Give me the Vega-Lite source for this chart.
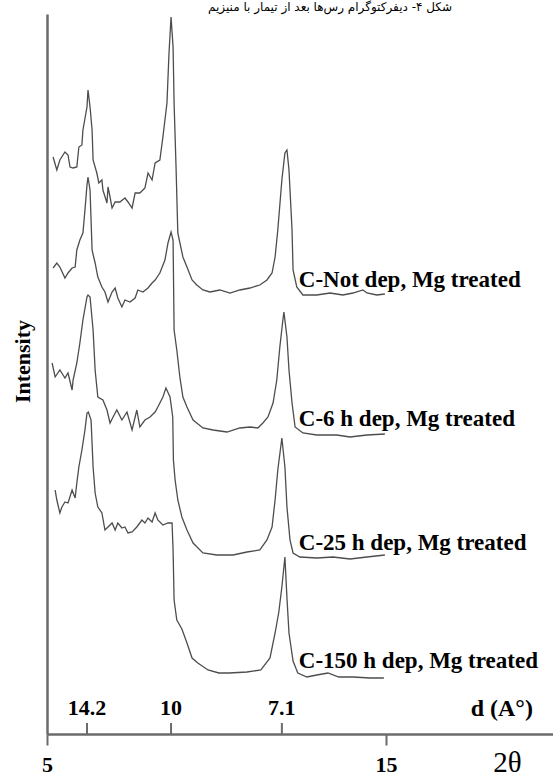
{
  "$schema": "https://vega.github.io/schema/vega-lite/v6.json",
  "width": 506,
  "height": 720,
  "autosize": {"type": "none"},
  "padding": {"left": 47, "top": 14, "right": 0, "bottom": 42},
  "background": "white",
  "config": {"view": {"stroke": null}},
  "title": {
    "text": "شکل ۴- دیفرکتوگرام رس‌ها بعد از تیمار با منیزیم",
    "font": "DejaVu Sans",
    "fontSize": 12,
    "fontWeight": "normal",
    "color": "black",
    "anchor": "middle",
    "dx": 30,
    "dy": 12,
    "baseline": "bottom",
    "offset": 0
  },
  "datasets": {
    "traces": [
      {"s":"Not","x":5.18,"y":577},{"s":"Not","x":5.29,"y":564},{"s":"Not","x":5.38,"y":574},{"s":"Not","x":5.53,"y":582},{"s":"Not","x":5.62,"y":579},{"s":"Not","x":5.68,"y":567},{"s":"Not","x":5.77,"y":566},{"s":"Not","x":5.88,"y":567},{"s":"Not","x":5.94,"y":587},{"s":"Not","x":6.03,"y":589},{"s":"Not","x":6.06,"y":604},{"s":"Not","x":6.18,"y":627},{"s":"Not","x":6.21,"y":644},{"s":"Not","x":6.27,"y":627},{"s":"Not","x":6.33,"y":604},{"s":"Not","x":6.36,"y":574},{"s":"Not","x":6.47,"y":561},{"s":"Not","x":6.53,"y":551},{"s":"Not","x":6.62,"y":554},{"s":"Not","x":6.65,"y":544},{"s":"Not","x":6.77,"y":531},{"s":"Not","x":6.80,"y":547},{"s":"Not","x":6.86,"y":537},{"s":"Not","x":6.92,"y":526},{"s":"Not","x":7.01,"y":532},{"s":"Not","x":7.15,"y":532},{"s":"Not","x":7.30,"y":536},{"s":"Not","x":7.39,"y":532},{"s":"Not","x":7.51,"y":526},{"s":"Not","x":7.60,"y":541},{"s":"Not","x":7.74,"y":541},{"s":"Not","x":7.89,"y":546},{"s":"Not","x":7.98,"y":561},{"s":"Not","x":8.10,"y":554},{"s":"Not","x":8.19,"y":571},{"s":"Not","x":8.33,"y":574},{"s":"Not","x":8.42,"y":597},{"s":"Not","x":8.54,"y":631},{"s":"Not","x":8.60,"y":681},{"s":"Not","x":8.66,"y":717},{"s":"Not","x":8.72,"y":687},{"s":"Not","x":8.75,"y":631},{"s":"Not","x":8.81,"y":564},{"s":"Not","x":8.86,"y":501},{"s":"Not","x":9.01,"y":477},{"s":"Not","x":9.13,"y":467},{"s":"Not","x":9.28,"y":454},{"s":"Not","x":9.42,"y":449},{"s":"Not","x":9.60,"y":444},{"s":"Not","x":9.81,"y":442},{"s":"Not","x":10.10,"y":444},{"s":"Not","x":10.40,"y":441},{"s":"Not","x":10.69,"y":444},{"s":"Not","x":10.99,"y":446},{"s":"Not","x":11.28,"y":449},{"s":"Not","x":11.49,"y":454},{"s":"Not","x":11.64,"y":461},{"s":"Not","x":11.73,"y":477},{"s":"Not","x":11.81,"y":504},{"s":"Not","x":11.93,"y":554},{"s":"Not","x":12.02,"y":581},{"s":"Not","x":12.08,"y":584},{"s":"Not","x":12.14,"y":564},{"s":"Not","x":12.23,"y":504},{"s":"Not","x":12.26,"y":464},{"s":"Not","x":12.37,"y":447},{"s":"Not","x":12.55,"y":439},{"s":"Not","x":12.96,"y":439},{"s":"Not","x":13.35,"y":441},{"s":"Not","x":13.73,"y":439},{"s":"Not","x":14.03,"y":441},{"s":"Not","x":14.32,"y":444},{"s":"Not","x":14.44,"y":441},{"s":"Not","x":14.73,"y":439},{"s":"Not","x":14.97,"y":440},

      {"s":"6h","x":5.18,"y":466},{"s":"6h","x":5.29,"y":471},{"s":"6h","x":5.38,"y":467},{"s":"6h","x":5.53,"y":456},{"s":"6h","x":5.62,"y":461},{"s":"6h","x":5.74,"y":466},{"s":"6h","x":5.83,"y":467},{"s":"6h","x":5.88,"y":484},{"s":"6h","x":5.97,"y":494},{"s":"6h","x":6.06,"y":501},{"s":"6h","x":6.12,"y":524},{"s":"6h","x":6.18,"y":549},{"s":"6h","x":6.21,"y":557},{"s":"6h","x":6.27,"y":544},{"s":"6h","x":6.33,"y":484},{"s":"6h","x":6.42,"y":471},{"s":"6h","x":6.50,"y":457},{"s":"6h","x":6.62,"y":447},{"s":"6h","x":6.71,"y":442},{"s":"6h","x":6.80,"y":432},{"s":"6h","x":6.92,"y":442},{"s":"6h","x":7.01,"y":446},{"s":"6h","x":7.09,"y":436},{"s":"6h","x":7.21,"y":427},{"s":"6h","x":7.30,"y":434},{"s":"6h","x":7.45,"y":432},{"s":"6h","x":7.60,"y":436},{"s":"6h","x":7.68,"y":444},{"s":"6h","x":7.83,"y":442},{"s":"6h","x":7.98,"y":446},{"s":"6h","x":8.10,"y":451},{"s":"6h","x":8.19,"y":454},{"s":"6h","x":8.33,"y":461},{"s":"6h","x":8.48,"y":474},{"s":"6h","x":8.57,"y":491},{"s":"6h","x":8.66,"y":502},{"s":"6h","x":8.72,"y":494},{"s":"6h","x":8.75,"y":404},{"s":"6h","x":8.83,"y":384},{"s":"6h","x":8.92,"y":357},{"s":"6h","x":9.01,"y":337},{"s":"6h","x":9.13,"y":327},{"s":"6h","x":9.31,"y":314},{"s":"6h","x":9.60,"y":306},{"s":"6h","x":9.90,"y":304},{"s":"6h","x":10.31,"y":302},{"s":"6h","x":10.69,"y":306},{"s":"6h","x":10.99,"y":307},{"s":"6h","x":11.22,"y":306},{"s":"6h","x":11.37,"y":311},{"s":"6h","x":11.52,"y":317},{"s":"6h","x":11.67,"y":331},{"s":"6h","x":11.78,"y":354},{"s":"6h","x":11.87,"y":387},{"s":"6h","x":11.96,"y":414},{"s":"6h","x":11.99,"y":422},{"s":"6h","x":12.08,"y":397},{"s":"6h","x":12.14,"y":364},{"s":"6h","x":12.23,"y":331},{"s":"6h","x":12.32,"y":307},{"s":"6h","x":12.55,"y":301},{"s":"6h","x":12.96,"y":299},{"s":"6h","x":13.55,"y":299},{"s":"6h","x":13.94,"y":297},{"s":"6h","x":14.44,"y":299},{"s":"6h","x":14.97,"y":300},

      {"s":"25h","x":5.15,"y":371},{"s":"25h","x":5.24,"y":357},{"s":"25h","x":5.38,"y":364},{"s":"25h","x":5.53,"y":356},{"s":"25h","x":5.62,"y":361},{"s":"25h","x":5.74,"y":344},{"s":"25h","x":5.77,"y":354},{"s":"25h","x":5.88,"y":371},{"s":"25h","x":5.97,"y":391},{"s":"25h","x":6.06,"y":414},{"s":"25h","x":6.18,"y":437},{"s":"25h","x":6.21,"y":439},{"s":"25h","x":6.27,"y":437},{"s":"25h","x":6.36,"y":404},{"s":"25h","x":6.42,"y":364},{"s":"25h","x":6.50,"y":337},{"s":"25h","x":6.65,"y":334},{"s":"25h","x":6.77,"y":324},{"s":"25h","x":6.86,"y":311},{"s":"25h","x":6.95,"y":317},{"s":"25h","x":7.06,"y":324},{"s":"25h","x":7.21,"y":314},{"s":"25h","x":7.36,"y":322},{"s":"25h","x":7.51,"y":304},{"s":"25h","x":7.65,"y":324},{"s":"25h","x":7.74,"y":307},{"s":"25h","x":7.89,"y":314},{"s":"25h","x":8.04,"y":317},{"s":"25h","x":8.19,"y":322},{"s":"25h","x":8.27,"y":327},{"s":"25h","x":8.42,"y":337},{"s":"25h","x":8.51,"y":346},{"s":"25h","x":8.63,"y":337},{"s":"25h","x":8.71,"y":317},{"s":"25h","x":8.73,"y":274},{"s":"25h","x":8.78,"y":254},{"s":"25h","x":8.86,"y":234},{"s":"25h","x":8.98,"y":217},{"s":"25h","x":9.13,"y":204},{"s":"25h","x":9.31,"y":191},{"s":"25h","x":9.60,"y":181},{"s":"25h","x":10.01,"y":179},{"s":"25h","x":10.49,"y":179},{"s":"25h","x":10.90,"y":182},{"s":"25h","x":11.28,"y":184},{"s":"25h","x":11.49,"y":194},{"s":"25h","x":11.64,"y":207},{"s":"25h","x":11.73,"y":234},{"s":"25h","x":11.81,"y":264},{"s":"25h","x":11.93,"y":296},{"s":"25h","x":12.02,"y":267},{"s":"25h","x":12.08,"y":227},{"s":"25h","x":12.17,"y":194},{"s":"25h","x":12.26,"y":181},{"s":"25h","x":12.46,"y":177},{"s":"25h","x":12.96,"y":176},{"s":"25h","x":13.44,"y":177},{"s":"25h","x":13.94,"y":175},{"s":"25h","x":14.44,"y":177},{"s":"25h","x":14.97,"y":179},

      {"s":"150h","x":5.24,"y":244},{"s":"150h","x":5.29,"y":234},{"s":"150h","x":5.38,"y":221},{"s":"150h","x":5.44,"y":227},{"s":"150h","x":5.53,"y":232},{"s":"150h","x":5.62,"y":231},{"s":"150h","x":5.74,"y":244},{"s":"150h","x":5.83,"y":236},{"s":"150h","x":5.88,"y":251},{"s":"150h","x":5.94,"y":267},{"s":"150h","x":6.03,"y":284},{"s":"150h","x":6.12,"y":304},{"s":"150h","x":6.18,"y":321},{"s":"150h","x":6.22,"y":322},{"s":"150h","x":6.30,"y":314},{"s":"150h","x":6.36,"y":267},{"s":"150h","x":6.42,"y":241},{"s":"150h","x":6.50,"y":227},{"s":"150h","x":6.62,"y":221},{"s":"150h","x":6.71,"y":204},{"s":"150h","x":6.80,"y":207},{"s":"150h","x":6.92,"y":211},{"s":"150h","x":7.01,"y":204},{"s":"150h","x":7.09,"y":211},{"s":"150h","x":7.21,"y":206},{"s":"150h","x":7.30,"y":207},{"s":"150h","x":7.39,"y":201},{"s":"150h","x":7.51,"y":202},{"s":"150h","x":7.65,"y":207},{"s":"150h","x":7.80,"y":214},{"s":"150h","x":7.89,"y":211},{"s":"150h","x":7.98,"y":216},{"s":"150h","x":8.10,"y":212},{"s":"150h","x":8.19,"y":221},{"s":"150h","x":8.27,"y":214},{"s":"150h","x":8.42,"y":209},{"s":"150h","x":8.57,"y":211},{"s":"150h","x":8.69,"y":211},{"s":"150h","x":8.72,"y":184},{"s":"150h","x":8.75,"y":134},{"s":"150h","x":8.81,"y":119},{"s":"150h","x":8.83,"y":114},{"s":"150h","x":8.98,"y":105},{"s":"150h","x":9.13,"y":91},{"s":"150h","x":9.28,"y":76},{"s":"150h","x":9.45,"y":71},{"s":"150h","x":9.75,"y":64},{"s":"150h","x":10.07,"y":61},{"s":"150h","x":10.37,"y":61},{"s":"150h","x":10.90,"y":62},{"s":"150h","x":11.31,"y":64},{"s":"150h","x":11.58,"y":76},{"s":"150h","x":11.73,"y":101},{"s":"150h","x":11.84,"y":122},{"s":"150h","x":11.93,"y":147},{"s":"150h","x":12.02,"y":177},{"s":"150h","x":12.08,"y":136},{"s":"150h","x":12.14,"y":101},{"s":"150h","x":12.26,"y":73},{"s":"150h","x":12.40,"y":61},{"s":"150h","x":12.67,"y":57},{"s":"150h","x":12.96,"y":59},{"s":"150h","x":13.29,"y":61},{"s":"150h","x":13.61,"y":57},{"s":"150h","x":14.03,"y":57},{"s":"150h","x":14.53,"y":56},{"s":"150h","x":14.94,"y":56}
    ],
    "labels": [
      {"label": "C-Not dep, Mg treated", "x": 12.43, "y": 447},
      {"label": "C-6 h dep, Mg treated", "x": 12.43, "y": 308},
      {"label": "C-25 h dep, Mg treated", "x": 12.43, "y": 184},
      {"label": "C-150 h dep, Mg treated", "x": 12.43, "y": 66}
    ],
    "dticks": [
      {"d": "14.2", "x": 6.18},
      {"d": "10", "x": 8.66},
      {"d": "7.1", "x": 11.93}
    ]
  },
  "layer": [
    {
      "data": {"name": "traces"},
      "mark": {"type": "line", "color": "#4d4d4d", "strokeWidth": 1.3, "interpolate": "linear"},
      "encoding": {
        "x": {
          "field": "x", "type": "quantitative",
          "scale": {"domain": [5, 19.93], "nice": false, "zero": false},
          "axis": {
            "values": [5, 15], "grid": false,
            "domainColor": "#6b6b6b", "domainWidth": 2.5,
            "tickColor": "#6b6b6b", "tickWidth": 2, "tickSize": 11,
            "labelFont": "Liberation Serif", "labelFontWeight": "bold", "labelFontSize": 22,
            "labelColor": "black", "labelPadding": 9, "labelFlush": false,
            "title": "2θ", "titleFont": "Liberation Serif", "titleFontWeight": "normal",
            "titleFontSize": 29, "titleColor": "black",
            "titleX": 460, "titleY": 28, "titleAlign": "center", "titleBaseline": "middle"
          }
        },
        "y": {
          "field": "y", "type": "quantitative",
          "scale": {"domain": [0, 720], "nice": false, "zero": false},
          "axis": {
            "grid": false, "ticks": false, "labels": false,
            "domainColor": "#6b6b6b", "domainWidth": 2.5,
            "title": "Intensity", "titleFont": "Liberation Serif", "titleFontWeight": "bold",
            "titleFontSize": 22, "titleColor": "black",
            "titleX": -25, "titleY": 347, "titleAlign": "center", "titleBaseline": "middle", "titleAngle": -90
          }
        },
        "detail": {"field": "s", "type": "nominal"}
      }
    },
    {
      "data": {"name": "dticks"},
      "mark": {"type": "rule", "color": "#6b6b6b", "strokeWidth": 2},
      "encoding": {
        "x": {"field": "x", "type": "quantitative"},
        "y": {"datum": 0, "type": "quantitative"},
        "y2": {"datum": 11}
      }
    },
    {
      "data": {"name": "dticks"},
      "mark": {"type": "text", "font": "Liberation Serif", "fontWeight": "bold", "fontSize": 22, "color": "black", "align": "center", "baseline": "alphabetic"},
      "encoding": {
        "x": {"field": "x", "type": "quantitative"},
        "y": {"datum": 19, "type": "quantitative"},
        "text": {"field": "d"}
      }
    },
    {
      "data": {"values": [{"t": "d (A°)", "x": 18.42}]},
      "mark": {"type": "text", "font": "Liberation Serif", "fontWeight": "bold", "fontSize": 24, "color": "black", "align": "center", "baseline": "alphabetic"},
      "encoding": {
        "x": {"field": "x", "type": "quantitative"},
        "y": {"datum": 18, "type": "quantitative"},
        "text": {"field": "t"}
      }
    },
    {
      "data": {"name": "labels"},
      "mark": {"type": "text", "font": "Liberation Serif", "fontWeight": "bold", "fontSize": 23, "color": "black", "align": "left", "baseline": "alphabetic"},
      "encoding": {
        "x": {"field": "x", "type": "quantitative"},
        "y": {"field": "y", "type": "quantitative"},
        "text": {"field": "label"}
      }
    }
  ]
}
